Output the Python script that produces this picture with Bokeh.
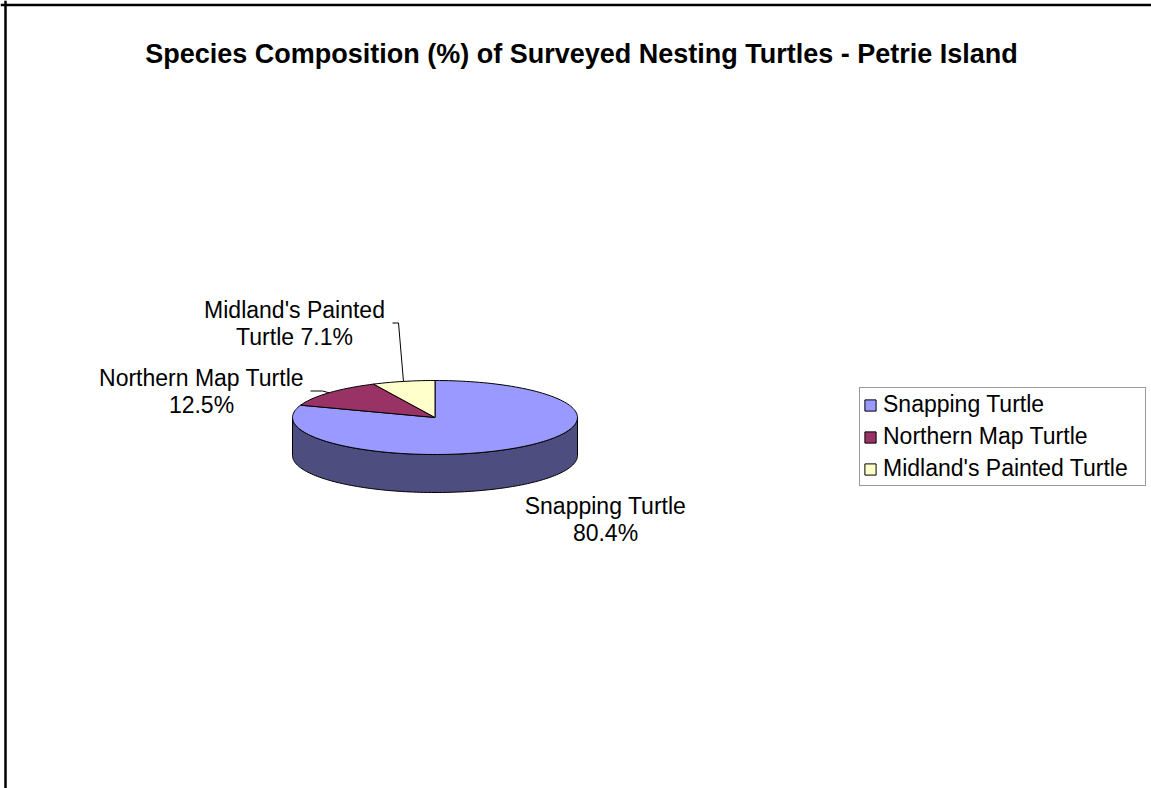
import math
import textwrap
from bokeh.plotting import figure
from bokeh.models import (ColumnDataSource, Range1d, Span, Label, Legend, LegendItem)
from bokeh.embed import file_html
from bokeh.resources import INLINE
from bokeh.core.properties import value

# ---------------- data ----------------
TITLE = "Species Composition (%) of Surveyed Nesting Turtles - Petrie Island"
species = ["Snapping Turtle", "Northern Map Turtle", "Midland's Painted Turtle"]
percent = [80.4, 12.5, 7.1]
top_colors = ["#9999FF", "#993366", "#FFFFCC"]
side_colors = ["#4D4D80", "#4D1A33", "#808066"]

# ---------------- layout (pixels) ----------------
W, H = 1151, 788
CX, CY = 434.5, 417.0      # pie centre
RX, RY = 142.5, 37.0       # ellipse radii
DEPTH = 38.0               # 3-D thickness
FONT = "Liberation Sans"
LABEL_SIZE = 23
LINE_STEP = 27
# label block centres and leader-line start points (None = no leader)
label_pos = [(605, 519), (201, 390.5), (294, 322.5)]
leader_start = [None, (310, 390.5), (392, 322.5)]
leader_knee = [None, (322, 390.5), (398, 322.5)]

p = figure(width=W, height=H, x_range=Range1d(0, W), y_range=Range1d(H, 0),
           output_backend="svg", toolbar_location=None, min_border=0,
           background_fill_color="white", border_fill_color="white")
p.axis.visible = False
p.grid.visible = False
p.outline_line_color = None


def pt(theta, dy=0.0):
    return CX + RX * math.sin(theta), CY - RY * math.cos(theta) + dy


total = sum(percent)
bounds = []
acc = 0.0
for v in percent:
    a0 = acc / total * 2 * math.pi
    acc += v
    a1 = acc / total * 2 * math.pi
    bounds.append((a0, a1))

# side walls (visible front half: theta in [pi/2, 3pi/2])
side_xs, side_ys, side_fc = [], [], []
for (a0, a1), c in zip(bounds, side_colors):
    s0, s1 = max(a0, math.pi / 2), min(a1, 3 * math.pi / 2)
    if s1 <= s0:
        continue
    n = 120
    th = [s0 + (s1 - s0) * i / n for i in range(n + 1)]
    upper = [pt(t) for t in th]
    lower = [pt(t, DEPTH) for t in reversed(th)]
    poly = upper + lower
    side_xs.append([q[0] for q in poly])
    side_ys.append([q[1] for q in poly])
    side_fc.append(c)
p.patches(xs="xs", ys="ys", fill_color="fc", line_color="black", line_width=1,
          source=ColumnDataSource(dict(xs=side_xs, ys=side_ys, fc=side_fc)))

# top faces
top_xs, top_ys = [], []
for (a0, a1) in bounds:
    n = max(8, int(200 * (a1 - a0) / (2 * math.pi)))
    th = [a0 + (a1 - a0) * i / n for i in range(n + 1)]
    poly = [(CX, CY)] + [pt(t) for t in th]
    top_xs.append([q[0] for q in poly])
    top_ys.append([q[1] for q in poly])
top_src = ColumnDataSource(dict(xs=top_xs, ys=top_ys, fc=top_colors))
top_r = p.patches(xs="xs", ys="ys", fill_color="fc", line_color="black",
                  line_width=1, source=top_src)

# leader lines to slice mid points
for i, (a0, a1) in enumerate(bounds):
    if leader_start[i] is None:
        continue
    mx, my = pt((a0 + a1) / 2)
    xs = [leader_start[i][0], leader_knee[i][0], mx]
    ys = [leader_start[i][1], leader_knee[i][1], my]
    p.line(xs, ys, line_color="black", line_width=1)

# data labels
lx, ly, lt = [], [], []
for i, (name, v) in enumerate(zip(species, percent)):
    lines = textwrap.wrap(f"{name} {v}%", 20)
    cx, cy = label_pos[i]
    for k, s in enumerate(lines):
        lx.append(cx)
        ly.append(cy + (k - (len(lines) - 1) / 2) * LINE_STEP)
        lt.append(s)
p.text(x="x", y="y", text="t", source=ColumnDataSource(dict(x=lx, y=ly, t=lt)),
       text_align="center", text_baseline="middle", text_font=value(FONT),
       text_font_size=f"{LABEL_SIZE}px", text_color="black")

# title
p.add_layout(Label(x=581, y=53, text=TITLE, text_align="center",
                   text_baseline="middle", text_font=FONT, text_font_size="27px",
                   text_font_style="bold", text_color="black"))

# frame (top and left edges)
p.add_layout(Span(location=5, dimension="height", line_color="black", line_width=2.5))
p.add_layout(Span(location=4.5, dimension="width", line_color="black", line_width=2.5))

# legend
items = [LegendItem(label=name, renderers=[top_r], index=i) for i, name in enumerate(species)]
legend = Legend(items=items, location=(859, 302), orientation="vertical",
                glyph_width=14, glyph_height=14, label_standoff=6,
                label_text_font=FONT, label_text_font_size=f"{LABEL_SIZE}px",
                label_text_color="black", label_width=259,
                label_height=26, spacing=5, padding=3, margin=0,
                border_line_color="#333333", border_line_width=1,
                background_fill_color="white", background_fill_alpha=1)
p.add_layout(legend, "center")

open("out.html", "w").write(file_html(p, INLINE))
